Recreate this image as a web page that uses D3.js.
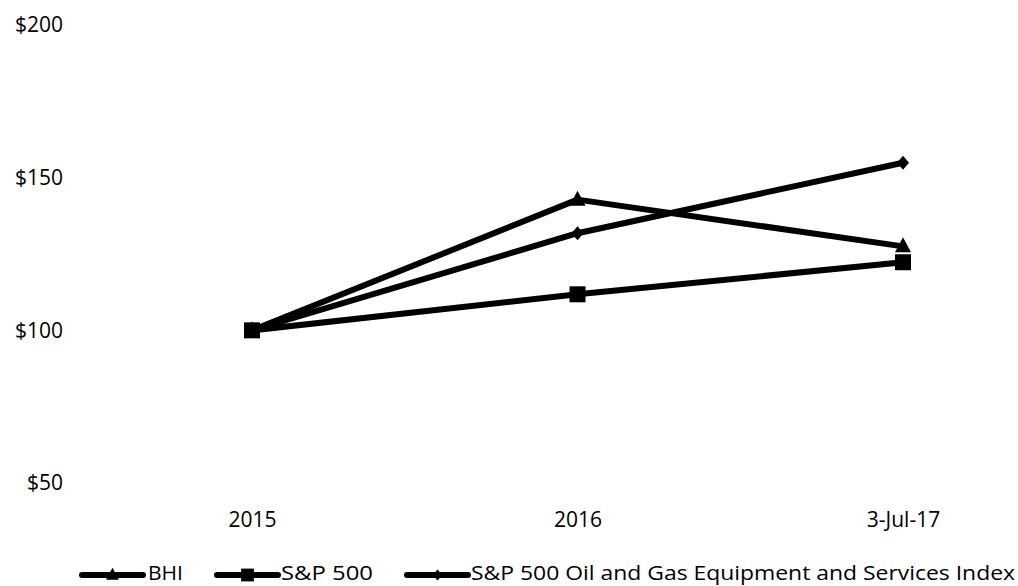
<!DOCTYPE html>
<html><head><meta charset="utf-8">
<script src="https://cdn.jsdelivr.net/npm/d3@7/dist/d3.min.js"></script>
<style>
body{margin:0;background:#fff;}
text{font-family:"Open Sans","Noto Sans",sans-serif;fill:#000;}
</style></head><body>
<svg id="chart" width="1018" height="586"></svg>
<script>
const categories = ["2015", "2016", "3-Jul-17"];
const bhi = [100, 142.8, 127.5];
const sp500 = [100, 111.8, 122.3];
const oges = [100, 131.8, 154.9];
const yTicks = [50, 100, 150, 200];
const seriesNames = ["BHI", "S&P 500", "S&P 500 Oil and Gas Equipment and Services Index"];
const series = [
  {name: seriesNames[0], values: bhi, marker: "triangle"},
  {name: seriesNames[1], values: sp500, marker: "square"},
  {name: seriesNames[2], values: oges, marker: "diamond"}
];

const svg = d3.select("#chart");
const x = d3.scalePoint().domain(categories).range([252, 903]);
const y = d3.scaleLinear().domain([50, 200]).range([483, 25]);
const FONT = '"Open Sans","Noto Sans",sans-serif';

const yAxis = svg.append("g").attr("transform", "translate(63,0)")
  .call(d3.axisLeft(y).tickValues(yTicks).tickFormat(d => "$" + d).tickSize(0).tickPadding(0));
yAxis.select(".domain").remove();
yAxis.selectAll("text").attr("font-size", 21).style("font-family", FONT);

const xAxis = svg.append("g").attr("transform", "translate(0,512)")
  .call(d3.axisBottom(x).tickSize(0).tickPadding(0));
xAxis.select(".domain").remove();
xAxis.selectAll("text").attr("font-size", 21).attr("dy", "0.71em").style("font-family", FONT);

const line = d3.line().x((d, i) => x(categories[i])).y(d => y(d));

function markerPath(type, s) {
  s = s || 1;
  if (type === "triangle") return `M0,${-9*s}L${8*s},${6*s}L${-8*s},${6*s}Z`;
  if (type === "square") return `M${-8*s},${-8*s}H${8*s}V${8*s}H${-8*s}Z`;
  return `M0,${-7*s}L${6*s},0L0,${7*s}L${-6*s},0Z`;
}

series.forEach(s => {
  svg.append("path").datum(s.values).attr("d", line)
    .attr("fill", "none").attr("stroke", "#000").attr("stroke-width", 6).attr("stroke-linejoin", "round");
  svg.selectAll(null).data(s.values).enter().append("path")
    .attr("d", markerPath(s.marker))
    .attr("transform", (d, i) => `translate(${x(categories[i])},${y(d)})`)
    .attr("fill", "#000");
});

// legend
const legendItems = [
  {x1: 82, x2: 143, tx: 148, w: 35},
  {x1: 217, x2: 278, tx: 281, w: 92},
  {x1: 407, x2: 468, tx: 471, w: 544}
];
series.forEach((s, i) => {
  const L = legendItems[i];
  const g = svg.append("g");
  g.append("line").attr("x1", L.x1).attr("x2", L.x2).attr("y1", 575).attr("y2", 575)
    .attr("stroke", "#000").attr("stroke-width", 6).attr("stroke-linecap", "round");
  g.append("path").attr("d", markerPath(s.marker, 0.8))
    .attr("transform", `translate(${(L.x1 + L.x2) / 2},575)`).attr("fill", "#000");
  g.append("text").attr("x", L.tx).attr("y", 580)
    .attr("font-size", 20).attr("textLength", L.w).attr("lengthAdjust", "spacingAndGlyphs").text(s.name);
});
</script>
</body></html>
